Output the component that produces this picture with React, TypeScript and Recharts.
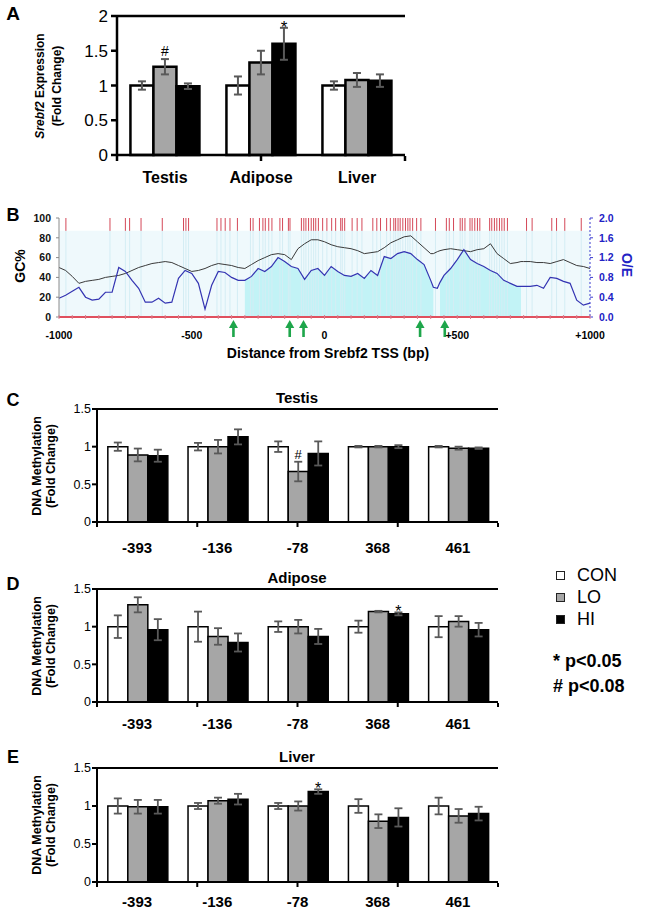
import React from "react"
import {
  BarChart,
  Bar,
  XAxis,
  YAxis,
  ErrorBar,
  LabelList,
  ReferenceLine,
  ComposedChart,
  Line,
  Area,
  ReferenceArea,
  ReferenceDot,
  Legend
} from "recharts"

const FONT = '"Liberation Sans", Arial, Helvetica, sans-serif'

// ---------- panel A: Srebf2 expression ----------
const tissues = ["Testis", "Adipose", "Liver"]
const exprCon = [1.0, 1.0, 1.0]
const exprConErr = [0.06, 0.13, 0.06]
const exprLo = [1.27, 1.33, 1.08]
const exprLoErr = [0.11, 0.17, 0.1]
const exprHi = [0.99, 1.6, 1.07]
const exprHiErr = [0.04, 0.23, 0.09]
const exprLoSig = ["#", "", ""]
const exprHiSig = ["", "*", ""]
const exprTicks = [0, 0.5, 1, 1.5, 2]

// ---------- panel B: CpG island plot ----------
const bPos = [
  -1000, -975, -950, -925, -900, -875, -850, -825, -800, -775, -750, -725, -700, -675, -650, -625,
  -600, -575, -550, -525, -500, -475, -450, -425, -400, -375, -350, -325, -300, -275, -250, -225,
  -200, -175, -150, -125, -100, -75, -50, -25, 0, 25, 50, 75, 100, 125, 150, 175, 200, 225, 250,
  275, 300, 325, 350, 375, 400, 410, 425, 435, 450, 475, 500, 525, 550, 575, 600, 625, 650, 675,
  700, 725, 740, 750, 775, 800, 825, 850, 875, 900, 925, 950, 975, 1000
]
const gcPct = [
  50, 47, 41, 34, 36, 37, 38, 40, 41, 42, 44, 47, 50, 52, 54, 55,
  56, 55, 52, 49, 46, 47, 49, 52, 54, 53, 52, 50, 49, 53, 57, 60,
  63, 64, 63, 58, 69, 74, 78, 78, 76, 73, 71, 70, 69, 67, 64, 65, 66, 70, 75,
  78, 81, 82, 76, 70, 64, 64, 66, 67, 68, 69, 68, 67, 66, 68, 69, 74, 64, 59,
  54, 55, 56, 56, 56, 55, 55, 54, 56, 58, 55, 52, 51, 49
]
const oeRatio = [
  0.38, 0.44, 0.52, 0.6, 0.4, 0.34, 0.36, 0.5, 0.5, 1.0, 0.92, 0.74, 0.58, 0.3, 0.3, 0.38,
  0.28, 0.3, 0.78, 0.94, 0.88, 0.68, 0.16, 0.64, 0.92, 0.9, 0.8, 0.74, 0.74, 0.82, 0.98, 0.92,
  1.02, 1.2, 1.12, 1.02, 0.98, 0.76, 0.94, 0.98, 0.84, 1.02, 0.92, 0.84, 0.82, 0.88, 0.78, 0.94, 0.84, 1.22, 1.18,
  1.28, 1.32, 1.28, 1.16, 1.06, 0.74, 0.6, 0.58, 0.7, 0.84, 0.98, 1.16, 1.36, 1.16, 1.08, 1.02, 0.94, 0.88, 0.74,
  0.68, 0.62, 0.62, 0.62, 0.62, 0.64, 0.58, 0.8, 0.78, 0.72, 0.68, 0.34, 0.24, 0.28
]
const islands = [
  [-300, 410],
  [435, 740]
]
const cpgSites = [
  -974, -808, -750, -734, -691, -611, -531, -522, -512, -405, -390, -374, -356, -328, -279, -269,
  -245, -232, -223, -210, -198, -168, -158, -136, -130, -87, -78, -70, -60, -50, -41, -33, -23, -7,
  9, 27, 42, 61, 67, 76, 104, 123, 141, 182, 197, 211, 234, 248, 261, 268, 277, 285, 295, 305, 314,
  322, 332, 347, 363, 418, 459, 470, 486, 511, 519, 529, 548, 556, 566, 576, 585, 622, 630, 640,
  649, 659, 668, 677, 689, 761, 782, 856, 874, 905, 967
]
const arrowSites = [-343, -131, -79, 360, 453]
const gcTicks = [0, 20, 40, 60, 80, 100]
const oeTicks = [0, 0.4, 0.8, 1.2, 1.6, 2.0]
const bMinorTicks = [
  -1000, -950, -900, -850, -800, -750, -700, -650, -600, -550, -500, -450, -400, -350, -300, -250,
  -200, -150, -100, -50, 0, 50, 100, 150, 200, 250, 300, 350, 400, 450, 500, 550, 600, 650, 700,
  750, 800, 850, 900, 950, 1000
]
const bLabelVals = [-1000, -500, 0, 500, 1000]
const bLabelText = ["-1000", "-500", "0", "+500", "+1000"]

// ---------- panels C-E: DNA methylation ----------
const sites = ["-393", "-136", "-78", "368", "461"]
const methTicks = [0, 0.5, 1, 1.5]

const testisCon = [1.0, 1.0, 1.0, 1.0, 1.0]
const testisConErr = [0.055, 0.05, 0.07, 0.01, 0.01]
const testisLo = [0.89, 1.0, 0.67, 1.0, 0.98]
const testisLoErr = [0.085, 0.09, 0.13, 0.01, 0.02]
const testisHi = [0.88, 1.13, 0.91, 1.0, 0.98]
const testisHiErr = [0.08, 0.1, 0.16, 0.02, 0.01]
const testisLoSig = ["", "", "#", "", ""]
const testisHiSig = ["", "", "", "", ""]

const adiposeCon = [1.0, 1.0, 1.0, 1.0, 1.0]
const adiposeConErr = [0.15, 0.2, 0.07, 0.08, 0.14]
const adiposeLo = [1.29, 0.87, 1.0, 1.2, 1.07]
const adiposeLoErr = [0.1, 0.11, 0.09, 0.01, 0.07]
const adiposeHi = [0.96, 0.79, 0.87, 1.17, 0.96]
const adiposeHiErr = [0.14, 0.12, 0.1, 0.02, 0.09]
const adiposeLoSig = ["", "", "", "", ""]
const adiposeHiSig = ["", "", "", "*", ""]

const liverCon = [1.0, 1.0, 1.0, 1.0, 1.0]
const liverConErr = [0.1, 0.04, 0.04, 0.09, 0.11]
const liverLo = [0.99, 1.07, 1.0, 0.8, 0.87]
const liverLoErr = [0.09, 0.04, 0.06, 0.09, 0.09]
const liverHi = [0.99, 1.09, 1.19, 0.85, 0.9]
const liverHiErr = [0.09, 0.07, 0.03, 0.12, 0.09]
const liverLoSig = ["", "", "", "", ""]
const liverHiSig = ["", "", "*", "", ""]

const groupNames: Record<string, string> = { con: "CON", lo: "LO", hi: "HI" }
const groupFills: Record<string, string> = { con: "#ffffff", lo: "#a6a6a6", hi: "#000000" }
const legendOrder = ["CON", "LO", "HI"]

function makeRows(names: string[], con: number[], conErr: number[], lo: number[], loErr: number[],
  hi: number[], hiErr: number[], loSig: string[], hiSig: string[]) {
  return names.map((name, i) => ({
    name,
    con: con[i], conErr: conErr[i],
    lo: lo[i], loErr: loErr[i],
    hi: hi[i], hiErr: hiErr[i],
    conSig: "", loSig: loSig[i], hiSig: hiSig[i]
  }))
}

// significance mark sitting above the error bar cap
function sigContent(rows: any[], key: string, big: number) {
  return (p: any) => {
    const row = rows[p.index]
    if (!row) return null
    const mark = row[key + "Sig"]
    if (!mark) return null
    const vb = p.viewBox || p
    const errPx = (row[key + "Err"] * vb.height) / row[key]
    const top = vb.y - errPx
    const star = mark === "*"
    return (
      <text x={vb.x + vb.width / 2} y={star ? top + 5 : top - 3} textAnchor="middle"
        fontFamily={FONT} fontSize={star ? big : big - 3} fill="#000">
        {mark}
      </text>
    )
  }
}

function groupBars(rows: any[], strokeW: number, errW: number, cap: number, big: number) {
  return ["con", "lo", "hi"].map(k => (
    <Bar key={k} dataKey={k} name={groupNames[k]} fill={groupFills[k]} stroke="#000"
      strokeWidth={strokeW} isAnimationActive={false}>
      <ErrorBar dataKey={k + "Err"} width={cap} stroke="#595959" strokeWidth={errW} />
      <LabelList dataKey={k} content={sigContent(rows, k, big)} />
    </Bar>
  ))
}

function CatTick(p: any) {
  return (
    <text x={p.x} y={p.y + p.off} textAnchor="middle" dominantBaseline="central"
      fontFamily={FONT} fontWeight="bold" fontSize={p.fs} fill="#000">
      {p.payload.value}
    </text>
  )
}

function Txt({ x, y, size, bold = true, rot = 0, color = "#000", left = false, children }: any) {
  return (
    <div
      style={{
        position: "absolute",
        left: x,
        top: y,
        transform: `translate(${left ? "0" : "-50%"}, -50%) rotate(${rot}deg)`,
        fontSize: size,
        fontWeight: bold ? 700 : 400,
        color,
        lineHeight: 1,
        whiteSpace: "nowrap",
        fontFamily: FONT
      }}
    >
      {children}
    </div>
  )
}

function LegendBox(props: any) {
  const items = [...(props.payload || [])].sort(
    (a: any, b: any) => legendOrder.indexOf(a.value) - legendOrder.indexOf(b.value)
  )
  return (
    <div>
      {items.map((e: any) => (
        <div key={e.value} style={{ display: "flex", alignItems: "center", height: 22 }}>
          <span style={{ width: 7, height: 7, background: e.color, border: "1px solid #222", marginRight: 12 }} />
          <span style={{ fontSize: 18, fontFamily: FONT, color: "#000" }}>{e.value}</span>
        </div>
      ))}
    </div>
  )
}

function PanelA() {
  const rows = makeRows(tissues, exprCon, exprConErr, exprLo, exprLoErr, exprHi, exprHiErr, exprLoSig, exprHiSig)
  return (
    <div style={{ position: "absolute", left: 0, top: 0 }}>
      <BarChart width={420} height={195} data={rows} margin={{ top: 16, right: 15, bottom: 38, left: 0 }}
        barGap={0} barCategoryGap="14%">
        <XAxis dataKey="name" height={1} interval={0} tickLine={false} tickSize={0}
          axisLine={{ stroke: "#000", strokeWidth: 2.5 }}
          tick={(p: any) => <CatTick {...p} off={20} fs={16} />} />
        <XAxis xAxisId="edge" type="number" domain={[0, 3]} ticks={[0, 1, 2, 3]} allowDataOverflow
          height={1} axisLine={false} tickSize={5} tickLine={{ stroke: "#000", strokeWidth: 2.5 }}
          tickFormatter={() => ""} />
        <YAxis width={117} domain={[0, 2]} ticks={exprTicks} interval={0} tickSize={6} tickMargin={3}
          axisLine={{ stroke: "#000", strokeWidth: 2.5 }} tickLine={{ stroke: "#000", strokeWidth: 2.5 }}
          tick={{ fill: "#000", fontSize: 17, fontFamily: FONT }} />
        <ReferenceLine y={2} stroke="#000" strokeWidth={2.5} />
        <ReferenceLine xAxisId="edge" x={3} stroke="#000" strokeWidth={2.5} />
        {groupBars(rows, 2.5, 2, 4, 17)}
      </BarChart>
    </div>
  )
}

function BTick(p: any) {
  const v = p.payload.value
  const i = bLabelVals.indexOf(v)
  return (
    <g>
      <line x1={p.x} x2={p.x} y1={p.y - 4} y2={p.y} stroke="#d98090" strokeWidth={1} />
      {i >= 0 && (
        <text x={p.x} y={p.y + 16} textAnchor="middle" dominantBaseline="central" fontFamily={FONT}
          fontWeight="bold" fontSize={10.5} fill="#000">
          {bLabelText[i]}
        </text>
      )}
    </g>
  )
}

function GreenArrow(p: any) {
  const { cx, cy } = p
  const c = "#1ea64b"
  return (
    <g>
      <polygon points={`${cx},${cy + 3} ${cx - 4.5},${cy + 11} ${cx + 4.5},${cy + 11}`} fill={c} />
      <rect x={cx - 1.3} y={cy + 10} width={2.6} height={10} fill={c} />
    </g>
  )
}

function PanelB() {
  const rows = bPos.map((pos, i) => ({
    pos,
    gc: gcPct[i],
    oe: oeRatio[i],
    island: islands.some(r => pos >= r[0] && pos <= r[1]) ? oeRatio[i] : null
  }))
  return (
    <div style={{ position: "absolute", left: 0, top: 205 }}>
      <ComposedChart width={652} height={150} data={rows} margin={{ top: 13, right: 0, bottom: 37, left: 0 }}>
        <XAxis dataKey="pos" type="number" domain={[-1000, 1000]} ticks={bMinorTicks} interval={0}
          height={1} tickSize={0} tickLine={false} axisLine={{ stroke: "#e0505e", strokeWidth: 2 }}
          tick={BTick} />
        <YAxis yAxisId="gc" width={59} domain={[0, 100]} ticks={gcTicks} interval={0} tickSize={3}
          tickMargin={5} axisLine={{ stroke: "#8a8a8a" }} tickLine={{ stroke: "#8a8a8a" }}
          tick={{ fill: "#111", fontSize: 10.5, fontWeight: "bold", fontFamily: FONT }} />
        <YAxis yAxisId="oe" orientation="right" width={62} domain={[0, 2]} ticks={oeTicks} interval={0}
          tickSize={3} tickMargin={6} tickFormatter={(v: number) => v.toFixed(1)}
          axisLine={{ stroke: "#3b3bd0", strokeDasharray: "2 2" }} tickLine={{ stroke: "#3b3bd0" }}
          tick={{ fill: "#2222c4", fontSize: 10.5, fontWeight: "bold", fontFamily: FONT }} />
        <ReferenceArea yAxisId="gc" x1={-1000} x2={1000} y1={0} y2={87} fill="#eff9fc" fillOpacity={1}
          stroke="none" />
        {cpgSites.map(s => (
          <ReferenceLine key={"f" + s} yAxisId="gc" segment={[{ x: s, y: 0 }, { x: s, y: 87 }]}
            stroke="#d4edf4" strokeWidth={1} />
        ))}
        {cpgSites.map(s => (
          <ReferenceLine key={"r" + s} yAxisId="gc" segment={[{ x: s, y: 87 }, { x: s, y: 100 }]}
            stroke="#d44858" strokeWidth={1} />
        ))}
        <Area yAxisId="oe" dataKey="island" type="linear" fill="#c2f3f6" fillOpacity={1} stroke="none"
          dot={false} activeDot={false} isAnimationActive={false} />
        <Line yAxisId="gc" dataKey="gc" type="linear" stroke="#3a3a3a" strokeWidth={1} dot={false}
          isAnimationActive={false} />
        <Line yAxisId="oe" dataKey="oe" type="linear" stroke="#3434b2" strokeWidth={1.2} dot={false}
          isAnimationActive={false} />
        {arrowSites.map(s => (
          <ReferenceDot key={"a" + s} yAxisId="gc" x={s} y={0} ifOverflow="visible" shape={GreenArrow} />
        ))}
      </ComposedChart>
    </div>
  )
}

function MethPanel({ rows, plotTop, plotH, labelOff, legend }: any) {
  const mTop = 25
  const mBottom = 38
  const width = 510
  return (
    <div style={{ position: "absolute", left: 0, top: plotTop - mTop }}>
      <BarChart width={width} height={mTop + plotH + mBottom + 2} data={rows}
        margin={{ top: mTop, right: width - 498, bottom: mBottom, left: 0 }}
        barGap={0} barCategoryGap="13.5%">
        <XAxis dataKey="name" height={1} interval={0} tickLine={false} tickSize={0}
          axisLine={{ stroke: "#000", strokeWidth: 2 }}
          tick={(p: any) => <CatTick {...p} off={labelOff} fs={15} />} />
        <XAxis xAxisId="edge" type="number" domain={[0, 5]} ticks={[0, 1, 2, 3, 4, 5]} allowDataOverflow
          height={1} axisLine={false} tickSize={4} tickLine={{ stroke: "#000", strokeWidth: 2 }}
          tickFormatter={() => ""} />
        <YAxis width={97} domain={[0, 1.5]} ticks={methTicks} interval={0} tickSize={5} tickMargin={1}
          axisLine={{ stroke: "#000", strokeWidth: 2 }} tickLine={{ stroke: "#000", strokeWidth: 2 }}
          tick={{ fill: "#000", fontSize: 12.5, fontFamily: FONT }} />
        <ReferenceLine y={1.5} stroke="#000" strokeWidth={2} />
        <ReferenceLine xAxisId="edge" x={5} stroke="#000" strokeWidth={2} />
        {groupBars(rows, 1.5, 1.8, 4, 16)}
        {legend && (
          <Legend layout="vertical" align="center" verticalAlign="middle" content={LegendBox}
            wrapperStyle={{ left: 556, top: 0, width: 90, height: "auto" }} />
        )}
      </BarChart>
    </div>
  )
}

function MethLabels({ letter, letterY, title, plotTop, plotH }: any) {
  const mid = plotTop + plotH / 2
  return (
    <>
      <Txt x={13} y={letterY} size={18}>{letter}</Txt>
      <Txt x={297} y={plotTop - 12} size={15}>{title}</Txt>
      <Txt x={37} y={mid} size={12.5} rot={-90}>DNA Methylation</Txt>
      <Txt x={51} y={mid} size={12.5} rot={-90}>(Fold Change)</Txt>
    </>
  )
}

export default function App() {
  const testis = makeRows(sites, testisCon, testisConErr, testisLo, testisLoErr, testisHi, testisHiErr, testisLoSig, testisHiSig)
  const adipose = makeRows(sites, adiposeCon, adiposeConErr, adiposeLo, adiposeLoErr, adiposeHi, adiposeHiErr, adiposeLoSig, adiposeHiSig)
  const liver = makeRows(sites, liverCon, liverConErr, liverLo, liverLoErr, liverHi, liverHiErr, liverLoSig, liverHiSig)

  return (
    <div style={{ position: "absolute", left: 0, top: 0, width: 652, height: 908, background: "#fff", overflow: "hidden", fontFamily: FONT }}>
      <PanelA />
      <Txt x={13} y={13} size={19}>A</Txt>
      <Txt x={40} y={86} size={12} rot={-90}><i>Srebf2</i> Expression</Txt>
      <Txt x={57} y={86} size={12} rot={-90}>(Fold Change)</Txt>

      <PanelB />
      <Txt x={13} y={215} size={18}>B</Txt>
      <Txt x={20} y={266} size={14} rot={-90}>GC%</Txt>
      <Txt x={627} y={265} size={14} rot={90} color="#2222c4">O/E</Txt>
      <Txt x={328} y={353} size={14}>Distance from Srebf2 TSS (bp)</Txt>

      <MethPanel rows={testis} plotTop={409} plotH={113} labelOff={23} />
      <MethLabels letter="C" letterY={400} title="Testis" plotTop={409} plotH={113} />

      <MethPanel rows={adipose} plotTop={589} plotH={113} labelOff={19} legend />
      <MethLabels letter="D" letterY={584} title="Adipose" plotTop={589} plotH={113} />
      <Txt x={553} y={661} size={18} left>* p&lt;0.05</Txt>
      <Txt x={553} y={686} size={18} left># p&lt;0.08</Txt>

      <MethPanel rows={liver} plotTop={768} plotH={114} labelOff={17} />
      <MethLabels letter="E" letterY={757} title="Liver" plotTop={768} plotH={114} />
    </div>
  )
}
